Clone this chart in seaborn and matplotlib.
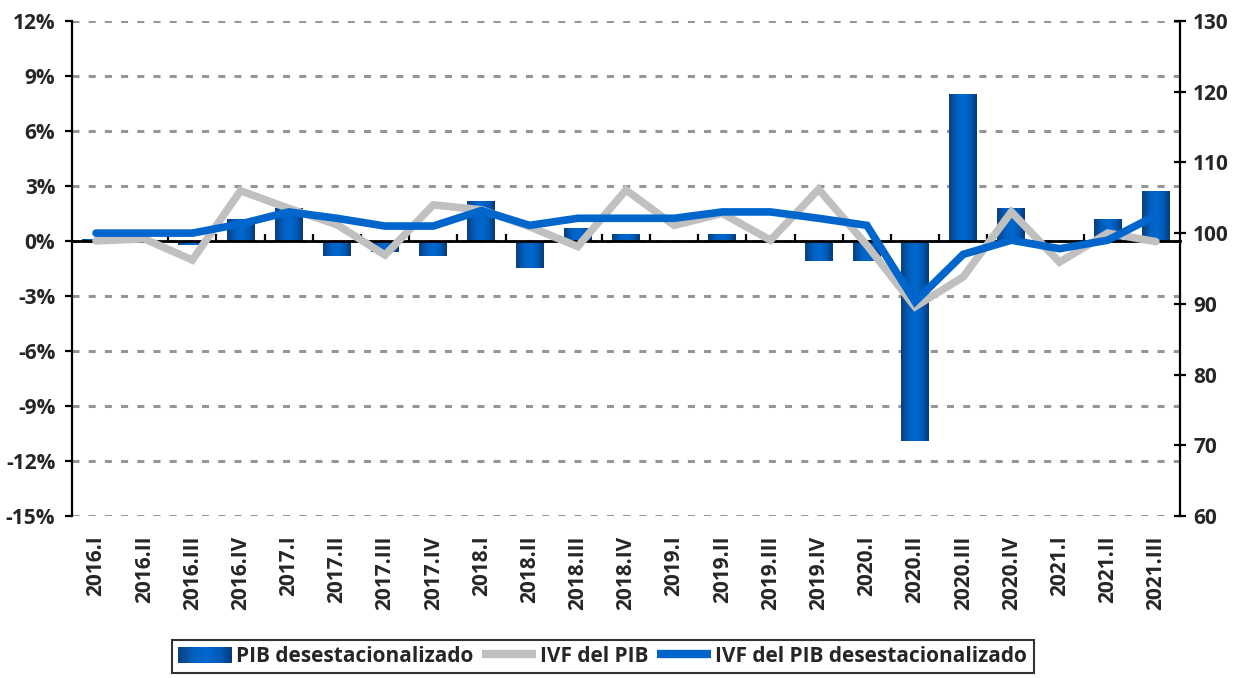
import numpy as np
import matplotlib
matplotlib.use("Agg")
import matplotlib.pyplot as plt
import seaborn as sns
from matplotlib.colors import LinearSegmentedColormap
from matplotlib.lines import Line2D
from matplotlib.patches import Rectangle, Patch
from matplotlib.legend_handler import HandlerBase

# data
quarters = ["2016.I", "2016.II", "2016.III", "2016.IV",
            "2017.I", "2017.II", "2017.III", "2017.IV",
            "2018.I", "2018.II", "2018.III", "2018.IV",
            "2019.I", "2019.II", "2019.III", "2019.IV",
            "2020.I", "2020.II", "2020.III", "2020.IV",
            "2021.I", "2021.II", "2021.III"]
pib_desest = [0.1, -0.1, -0.2, 1.2, 1.8, -0.8, -0.6, -0.8, 2.2, -1.5, 0.7, 0.4,
              0.0, 0.4, 0.0, -1.1, -1.1, -10.9, 8.0, 1.8, 0.0, 1.2, 2.7]
ivf_pib = [98.9, 99.2, 96.2, 106.0, 103.5, 101.2, 96.9, 104.0, 103.3, 100.9, 98.1, 106.1,
           101.1, 102.8, 99.0, 106.2, 98.3, 89.6, 93.8, 103.0, 95.9, 100.0, 98.8]
ivf_pib_desest = [100.0, 100.0, 100.0, 101.3, 103.0, 102.1, 101.0, 101.0, 103.2, 101.1, 102.1, 102.1,
                  102.1, 103.0, 103.0, 102.1, 101.1, 90.3, 97.0, 99.0, 97.8, 99.0, 102.5]
left_ticks = [-15, -12, -9, -6, -3, 0, 3, 6, 9, 12]
right_ticks = [60, 70, 80, 90, 100, 110, 120, 130]

sns.set_theme(style="white")
plt.rcParams["font.family"] = ["Open Sans", "DejaVu Sans"]
plt.rcParams["font.weight"] = "bold"
plt.rcParams["axes.labelweight"] = "bold"

bar_cmap = LinearSegmentedColormap.from_list(
    "bar", [(0.0, "#0b3f7c"), (0.3, "#0061c2"), (0.55, "#0068cf"), (0.8, "#0058b2"), (1.0, "#083a76")])

fig = plt.figure(figsize=(12.4, 6.78), dpi=100)
ax = fig.add_axes([0.058, 0.239, 0.8936, 0.730])
n = len(quarters)
x = np.arange(n)

sns.barplot(x=quarters, y=pib_desest, ax=ax, color="#0064c8", width=0.58,
            saturation=1, edgecolor="none", zorder=2)

# gradient fill for each bar
grad = np.linspace(0, 1, 64).reshape(1, -1)
for p in list(ax.patches):
    x0, w = p.get_x(), p.get_width()
    y0, h = p.get_y(), p.get_height()
    if abs(h) < 1e-9:
        continue
    im = ax.imshow(grad, extent=[x0, x0 + w, min(y0, y0 + h), max(y0, y0 + h)],
                   aspect="auto", cmap=bar_cmap, zorder=2.1, interpolation="bilinear")
    im.set_clip_path(p)

ax.set_xlim(-0.5, n - 0.5)
ax.set_ylim(-15, 12)
ax.set_yticks(left_ticks)
ax.set_yticklabels([f"{v}%" for v in left_ticks])
ax.set_xticks(x)
ax.set_xticklabels(quarters, rotation=90)
ax.set_xlabel("")
ax.set_ylabel("")
ax.set_axisbelow(True)
ax.yaxis.grid(True, color="#969696", linewidth=2.2, linestyle=(0, (2.3, 3.0)))
ax.xaxis.grid(False)
for s in ["top", "bottom", "right"]:
    ax.spines[s].set_visible(False)
ax.spines["left"].set_color("black")
ax.spines["left"].set_linewidth(1.6)
ax.tick_params(axis="y", direction="out", length=5, width=1.6, color="black",
               pad=7, labelsize=15, left=True)
ax.tick_params(axis="x", length=0, pad=14, labelsize=15)

# zero line with category separators
sec = ax.secondary_xaxis(15 / 27)
sec.set_xticks(np.arange(0.5, n - 1, 1.0))
sec.tick_params(axis="x", direction="out", length=5, width=1.6, color="black",
                labeltop=False, labelbottom=False)
sec.spines["top"].set_color("black")
sec.spines["top"].set_linewidth(2.0)
sec.set_zorder(3)

ax2 = ax.twinx()
sns.lineplot(x=x, y=ivf_pib, ax=ax2, color="#c0c0c0", linewidth=5.5, sort=False,
             solid_joinstyle="miter", legend=False)
sns.lineplot(x=x, y=ivf_pib_desest, ax=ax2, color="#0066cc", linewidth=5.5, sort=False,
             solid_joinstyle="miter", legend=False)
ax2.set_xlim(-0.5, n - 0.5)
ax2.set_ylim(60, 130)
ax2.set_yticks(right_ticks)
ax2.set_ylabel("")
ax2.grid(False)
for s in ["top", "bottom", "left"]:
    ax2.spines[s].set_visible(False)
ax2.spines["right"].set_color("black")
ax2.spines["right"].set_linewidth(1.6)
ax2.tick_params(axis="y", direction="inout", length=9, width=1.6, color="black",
                pad=5, labelsize=15, right=True)


class GradientHandler(HandlerBase):
    def create_artists(self, legend, orig_handle, xdescent, ydescent, width, height,
                       fontsize, trans):
        k = 24
        arts = []
        for i in range(k):
            r = Rectangle((-xdescent + width * i / k, -ydescent), width / k * 1.05, height,
                          facecolor=bar_cmap((i + 0.5) / k), edgecolor="none", transform=trans)
            arts.append(r)
        return arts


bar_proxy = Patch(facecolor="#0064c8")
grey_proxy = Line2D([], [], color="#c0c0c0", linewidth=6, solid_capstyle="butt")
blue_proxy = Line2D([], [], color="#0066cc", linewidth=6, solid_capstyle="butt")
leg = fig.legend([bar_proxy, grey_proxy, blue_proxy],
                 ["PIB desestacionalizado", "IVF del PIB", "IVF del PIB desestacionalizado"],
                 handler_map={bar_proxy: GradientHandler()},
                 loc="center", bbox_to_anchor=(0.486, 0.032), ncol=3, frameon=True,
                 fancybox=False, edgecolor="black", fontsize=15, handlelength=2.6,
                 handleheight=0.8, handletextpad=0.2, columnspacing=0.4, borderpad=0.3,
                 borderaxespad=0)
leg.get_frame().set_linewidth(1.5)

fig.savefig("out.png", dpi=100)
